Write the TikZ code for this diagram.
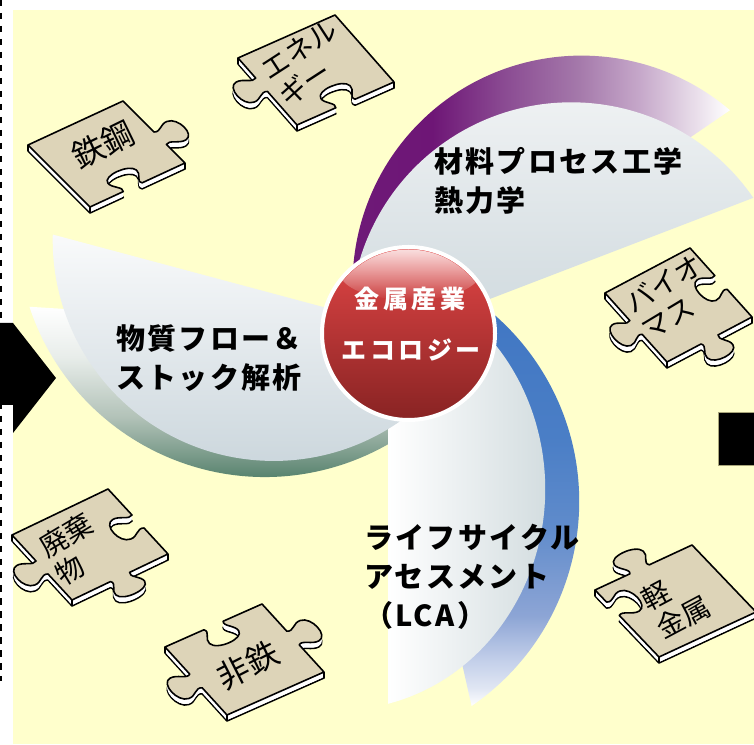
\documentclass[tikz,border=0pt]{standalone}
\usepackage{fontspec}
\newfontfamily\jp{Noto Sans CJK JP}
\newfontfamily\jpwide{Noto Sans CJK JP}[LetterSpace=8]
\newfontfamily\jpcore{Noto Sans CJK JP}[LetterSpace=14]
\usetikzlibrary{fadings}

\definecolor{paper}{HTML}{FFFFCC}
\definecolor{tile}{HTML}{DDD4B8}
\definecolor{coreT}{HTML}{E24646}
\definecolor{coreB}{HTML}{882323}
\definecolor{grayLT}{HTML}{F9FAFB}
\definecolor{grayLB}{HTML}{CCD7DD}
\definecolor{grayUT}{HTML}{F2F4F5}
\definecolor{grayUB}{HTML}{CCD7DC}
\definecolor{grayBR}{HTML}{CED9DC}
\definecolor{pA}{HTML}{6E1A78}
\definecolor{pB}{HTML}{6E1676}
\definecolor{pC}{HTML}{8A4A92}
\definecolor{pD}{HTML}{A478AA}
\definecolor{pE}{HTML}{C6A8CA}
\definecolor{pF}{HTML}{EBE1EC}
\definecolor{gA}{HTML}{2B684C}
\definecolor{gB}{HTML}{3A7257}
\definecolor{gC}{HTML}{6E9280}
\definecolor{gD}{HTML}{B2C2B8}
\definecolor{gE}{HTML}{E8EDEA}
\definecolor{bA}{HTML}{E0E6F3}
\definecolor{bB}{HTML}{C4D0EA}
\definecolor{bC}{HTML}{8DA5D5}
\definecolor{bD}{HTML}{5F8BCB}
\definecolor{bE}{HTML}{4A7EC6}
\definecolor{bF}{HTML}{3D74C2}

% colour runs of the three blade shadows
\pgfdeclarehorizontalshading{purplefade}{100bp}{color(0bp)=(pA); color(25bp)=(pA); color(37bp)=(pB); color(46bp)=(pC); color(55.5bp)=(pD); color(63.5bp)=(pE); color(71bp)=(pF); color(75bp)=(white); color(100bp)=(white)}
\pgfdeclareverticalshading{greenfade}{100bp}{color(0bp)=(gA); color(25bp)=(gA); color(28bp)=(gB); color(36bp)=(gC); color(47.5bp)=(gD); color(62.5bp)=(gE); color(75bp)=(white); color(100bp)=(white)}
\pgfdeclareverticalshading{bluefade}{100bp}{color(0bp)=(white); color(25bp)=(white); color(27bp)=(bA); color(30bp)=(bB); color(35bp)=(bC); color(45bp)=(bD); color(55bp)=(bE); color(75bp)=(bF); color(100bp)=(bF)}

\tikzfading[name=glossfade, top color=transparent!12, bottom color=transparent!100]

% blade outlines in a local frame: chord on the x axis, arc on the +y side
\newcommand\graysegment{(368.8,0) arc[start angle=13.6, end angle=166.4, radius=221] -- cycle}
\newcommand\shadowsegment{(380.3,0) arc[start angle=21.78, end angle=158.22, radius=248] -- cycle}
\newcommand\upshadowsegment{(389,0) arc[start angle=15.19, end angle=164.81, radius=229] -- cycle}

% jigsaw edges on a 100x100 tile; argument: 1 = tab, -1 = slot, 0 = straight;
% \cB, \cR, \cT, \cL place the tab along each edge
\def\cB{50}\def\cR{50}\def\cT{50}\def\cL{50}
\newcommand\pzB[1]{-- ({\cB-10},0) .. controls ({\cB-6},{-5*(#1)}) and ({\cB-16},{-10*(#1)}) .. ({\cB-15},{-17*(#1)}) .. controls ({\cB-14},{-28*(#1)}) and ({\cB+14},{-28*(#1)}) .. ({\cB+15},{-17*(#1)}) .. controls ({\cB+16},{-10*(#1)}) and ({\cB+6},{-5*(#1)}) .. ({\cB+10},0) -- (100,0)}
\newcommand\pzR[1]{-- (100,{\cR-10}) .. controls ({100+5*(#1)},{\cR-6}) and ({100+10*(#1)},{\cR-16}) .. ({100+17*(#1)},{\cR-15}) .. controls ({100+28*(#1)},{\cR-14}) and ({100+28*(#1)},{\cR+14}) .. ({100+17*(#1)},{\cR+15}) .. controls ({100+10*(#1)},{\cR+16}) and ({100+5*(#1)},{\cR+6}) .. (100,{\cR+10}) -- (100,100)}
\newcommand\pzT[1]{-- ({\cT+10},100) .. controls ({\cT+6},{100+5*(#1)}) and ({\cT+16},{100+10*(#1)}) .. ({\cT+15},{100+17*(#1)}) .. controls ({\cT+14},{100+28*(#1)}) and ({\cT-14},{100+28*(#1)}) .. ({\cT-15},{100+17*(#1)}) .. controls ({\cT-16},{100+10*(#1)}) and ({\cT-6},{100+5*(#1)}) .. ({\cT-10},100) -- (0,100)}
\newcommand\pzL[1]{-- (0,{\cL+10}) .. controls ({-5*(#1)},{\cL+6}) and ({-10*(#1)},{\cL+16}) .. ({-17*(#1)},{\cL+15}) .. controls ({-28*(#1)},{\cL+14}) and ({-28*(#1)},{\cL-14}) .. ({-17*(#1)},{\cL-15}) .. controls ({-10*(#1)},{\cL-16}) and ({-5*(#1)},{\cL-6}) .. (0,{\cL-10}) -- cycle}
\newcommand\pzoutline[4]{(0,0) \pzB{#1} \pzR{#2} \pzT{#3} \pzL{#4}}

\tikzset{
  pzline/.style={draw=black, line width=1.6pt, line join=round},
  tiletext/.style={font=\jp\fontsize{28}{32}\selectfont, align=left, inner sep=0pt},
  bladetext/.style={font=\jpwide\bfseries\fontsize{29}{39}\selectfont, align=left, inner sep=0pt, anchor=north west},
  coretext/.style={font=\jpcore\bfseries\fontsize{25}{30}\selectfont, text=white, inner sep=0pt, anchor=base},
}

% #1 tile frame, #2-#5 edges (lower right, upper right, upper left, lower left),
% #6 name, #7 text centre, #8 text angle, #9 text
\newcommand\puzzle[9]{%
  \foreach \dd in {6,5,4,3,2,1} {%
    \begin{scope}[yshift=-\dd pt]\begin{scope}[cm={#1}]
      \ifnum\dd=6 \filldraw[fill=white, pzline] \pzoutline{#2}{#3}{#4}{#5};
      \else \fill[white] \pzoutline{#2}{#3}{#4}{#5};\fi
    \end{scope}\end{scope}}
  \begin{scope}[cm={#1}]
    \filldraw[fill=tile, pzline] \pzoutline{#2}{#3}{#4}{#5};
    \coordinate (#6-b) at (0,0);
    \coordinate (#6-r) at (100,0);
    \coordinate (#6-l) at (0,100);
  \end{scope}
  \foreach \c in {b,r,l} \draw[pzline] (#6-\c) -- ++(0,-6);
  \node[tiletext, rotate=#8] (#6) at (#7) {#9};
}

\begin{document}
\begin{tikzpicture}[x=1pt,y=1pt]
\useasboundingbox (0,0) rectangle (754,744);
\fill[white] (0,0) rectangle (754,744);
\fill[paper] (13,0) rectangle (754,734);
\draw[line width=2pt, dash pattern=on 6.5pt off 6.5pt] (1,744) -- (1,63);

% block arrow entering from the left, block on the right
\fill[black] (0,421) -- (13,421) -- (56,366) -- (13,311) -- (13,339) -- (0,339) -- cycle;
\filldraw[fill=black, draw={rgb,255:red,168;green,165;blue,122}, line width=0.8pt] (718,279) rectangle (754,332);

% blade shadows and faces
\begin{scope}[shift={(409,414)}, rotate=34.4]
  \shade[shading=purplefade] \upshadowsegment;
\end{scope}
\begin{scope}[shift={(409,414)}, rotate=21]
  \shade[top color=grayUT, bottom color=grayUB] \graysegment;
\end{scope}
\begin{scope}[shift={(388,409)}, rotate=-77.3]
  \shade[shading=bluefade] \shadowsegment;
\end{scope}
\begin{scope}[shift={(409,414)}, rotate=176.5]
  \shade[shading=greenfade] \shadowsegment;
\end{scope}
\begin{scope}[shift={(388,409)}, rotate=-90, yscale=0.93]
  \shade[left color=white, right color=grayBR] \graysegment;
\end{scope}
\begin{scope}[shift={(409,414)}, rotate=165]
  \shade[top color=grayLT, bottom color=grayLB] \graysegment;
\end{scope}

% blade labels
\node[bladetext] (mpe) at (434,597) {材料プロセス工学\\熱力学};
\node[bladetext] (mfa) at (116,419) {物質フロー＆\\ストック解析};
\node[bladetext] (lca) at (364,220) {ライフサイクル\\アセスメント\\（LCA）};

% central disc with a gloss on its upper part
\node[circle, minimum size=173pt, inner sep=0pt, draw=white, line width=4pt,
      top color=coreT, bottom color=coreB] (core) at (408.5,410.5) {};
\begin{scope}
  \clip (408.5,410.5) circle [radius=84];
  \fill[white, path fading=glossfade] (410,471) ellipse [x radius=70, y radius=27];
\end{scope}
\node[coretext] (coreA) at (410,435) {金属産業};
\node[coretext] (coreB) at (411,384) {エコロジー};

% jigsaw pieces
\def\cB{45}\def\cR{40}\def\cT{50}\def\cL{50}
\puzzle{0.95,0.44,-0.62,0.62,(90,537)}{-1}{1}{0}{0}{steel}{103,599}{26}{\fontsize{32}{36}\selectfont 鉄鋼}
\def\cB{50}\def\cR{50}\def\cT{50}\def\cL{60}
\puzzle{0.97,0.43,-0.59,0.67,(297,619)}{-1}{0}{0}{1}{energy}{308,681}{33}{エネル\\ギー}
\def\cB{50}\def\cR{50}\def\cT{50}\def\cL{50}
\puzzle{0.85,0.45,-0.62,0.69,(667,382)}{1}{-1}{0}{1}{biomass}{672,447}{31}{バイオ\\マス}
\def\cB{50}\def\cR{50}\def\cT{46}\def\cL{72}
\puzzle{0.97,0.45,-0.64,0.67,(659,87)}{0}{0}{1}{-1}{light}{676,141}{28}{軽\\金属}
\def\cB{50}\def\cR{50}\def\cT{50}\def\cL{50}
\puzzle{0.96,0.46,-0.60,0.65,(72,144)}{1}{-1}{0}{1}{waste}{74,195}{31}{廃棄\\物}
\puzzle{0.97,0.43,-0.62,0.68,(227,29)}{0}{1}{-1}{1}{nonferrous}{248,79}{27}{\fontsize{32}{36}\selectfont 非鉄}
\end{tikzpicture}
\end{document}
